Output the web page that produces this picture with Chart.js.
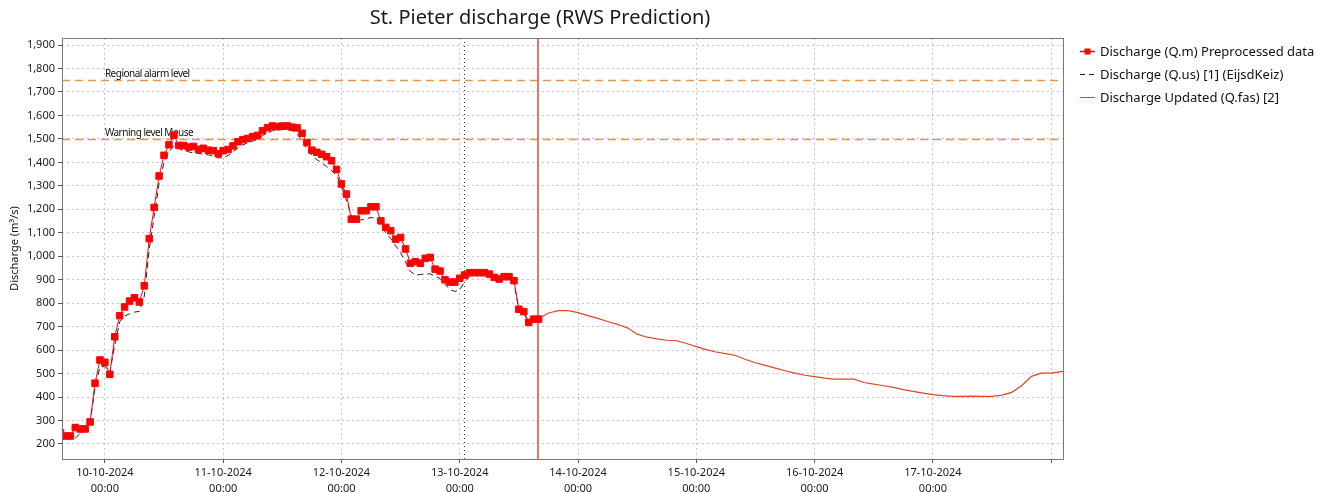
<!DOCTYPE html>
<html>
<head>
<meta charset="utf-8">
<script src="https://cdn.jsdelivr.net/npm/chart.js@4.4.1/dist/chart.umd.min.js"></script>
<style>
  html, body { margin: 0; padding: 0; background: #fff; }
  #wrap { width: 1330px; height: 492px; }
</style>
</head>
<body>
<div id="wrap"><canvas id="dischargeChart" width="1330" height="492"></canvas></div>
<script>
// time axis is in hours since 10-10-2024 00:00
var obsHours = [-9, -8, -7, -6, -5, -4, -3, -2, -1, 0, 1, 2, 3, 4, 5, 6, 7, 8, 9, 10,
    11, 12, 13, 14, 15, 16, 17, 18, 19, 20, 21, 22, 23, 24, 25, 26, 27, 28, 29, 30,
    31, 32, 33, 34, 35, 36, 37, 38, 39, 40, 41, 42, 43, 44, 45, 46, 47, 48, 49, 50,
    51, 52, 53, 54, 55, 56, 57, 58, 59, 60, 61, 62, 63, 64, 65, 66, 67, 68, 69, 70,
    71, 72, 73, 74, 75, 76, 77, 78, 79, 80, 81, 82, 83, 84, 85, 86, 87, 88];
var obsValues = [248, 234, 234, 270, 264, 264, 294, 459, 558, 548, 497, 657, 747, 784, 809, 823, 805, 874, 1075, 1208,
    1342, 1430, 1475, 1516, 1472, 1472, 1465, 1468, 1455, 1460, 1452, 1450, 1437, 1450, 1455, 1470, 1488, 1497, 1502, 1510,
    1515, 1535, 1548, 1555, 1552, 1555, 1555, 1550, 1547, 1524, 1484, 1452, 1443, 1434, 1424, 1407, 1370, 1308, 1265, 1158,
    1158, 1194, 1194, 1211, 1211, 1151, 1123, 1109, 1073, 1080, 1031, 970, 977, 970, 991, 995, 945, 937, 900, 890,
    890, 906, 920, 930, 930, 930, 930, 924, 910, 903, 913, 913, 896, 774, 764, 718, 732, 732];

var usHours = [-6, -5, -4, -3, -2, -1, 0, 1, 2, 3, 4, 5, 6, 7, 8, 9, 10,
    11, 12, 13, 14, 15, 16, 17, 18, 19, 20, 21, 22, 23, 24, 25, 26, 27, 28, 29, 30,
    31, 32, 33, 34, 35, 36, 37, 38, 39, 40, 41, 42, 43, 44, 45, 46, 47, 48, 49, 50,
    51, 52, 53, 54, 55, 56, 57, 58, 59, 60, 61, 62, 63, 64, 65, 66, 67, 68, 69, 70,
    71, 72, 73, 74, 75, 76, 77, 78, 79, 80, 81, 82, 83, 84, 85, 86, 87, 88];
var usValues = [225, 245, 260, 290, 440, 528, 530, 505, 620, 720, 745, 755, 762, 765, 830, 1030, 1170,
    1310, 1400, 1445, 1470, 1460, 1450, 1445, 1440, 1438, 1435, 1432, 1428, 1420, 1418, 1430, 1445, 1462, 1475, 1483, 1490,
    1500, 1515, 1525, 1535, 1538, 1540, 1540, 1535, 1520, 1495, 1455, 1430, 1412, 1398, 1382, 1365, 1345, 1300, 1240, 1175,
    1150, 1155, 1160, 1165, 1162, 1130, 1100, 1075, 1045, 1015, 975, 935, 920, 922, 925, 925, 915, 905, 880, 858,
    850, 858, 890, 915, 925, 925, 925, 920, 905, 898, 905, 905, 890, 770, 758, 715, 728, 730];

var fasHours = [88, 90, 92, 94, 96, 98, 100, 102, 104, 106, 108, 110, 112, 114, 116, 118, 120,
    122, 124, 126, 128, 130, 132, 134, 136, 138, 140, 142, 144, 146, 148, 150, 152, 154, 156, 158, 160,
    162, 164, 166, 168, 170, 172, 174, 176, 178, 180, 182, 184, 186, 188, 190, 192, 194, 196];
var fasValues = [735, 758, 768, 768, 760, 747, 735, 722, 710, 695, 668, 655, 648, 642, 640, 628, 615,
    602, 592, 585, 577, 560, 546, 535, 523, 512, 502, 493, 487, 481, 476, 476, 476, 462, 455, 448, 441,
    432, 424, 417, 410, 406, 403, 403, 404, 403, 403, 408, 420, 448, 488, 502, 502, 508, 512];

var tickHours = [0, 24, 48, 72, 96, 120, 144, 168, 192];
var tickDates = ["10-10-2024", "11-10-2024", "12-10-2024", "13-10-2024", "14-10-2024",
    "15-10-2024", "16-10-2024", "17-10-2024", ""];
var yTicks = [200, 300, 400, 500, 600, 700, 800, 900, 1000, 1100, 1200, 1300, 1400, 1500, 1600, 1700, 1800, 1900];

var levelValues = [1750, 1500];
var levelNames = ["Regional alarm level", "Warning level Meuse"];
var forecastHour = 88;     // red line, start of forecast
var lastUsHour = 72.8;     // black dotted line

var FONT = '"Noto Sans", "Open Sans", sans-serif';

function pts(xs, ys) {
    return xs.map(function (h, i) { return { x: h, y: ys[i] }; });
}

var overlay = {
    id: "overlay",
    beforeDatasetsDraw: function (chart) {
        var ctx = chart.ctx, area = chart.chartArea;
        var xs = chart.scales.x, ys = chart.scales.y;
        ctx.save();
        ctx.beginPath();
        ctx.rect(area.left, area.top, area.right - area.left, area.bottom - area.top);
        ctx.clip();

        // threshold levels
        levelValues.forEach(function (v, i) {
            var y = Math.round(ys.getPixelForValue(v)) + 0.5;
            ctx.strokeStyle = "#e8964a";
            ctx.lineWidth = 1.3;
            ctx.setLineDash([8, 5]);
            ctx.beginPath();
            ctx.moveTo(area.left, y);
            ctx.lineTo(area.right, y);
            ctx.stroke();
            ctx.setLineDash([]);
            ctx.fillStyle = "#111";
            ctx.font = "10px " + FONT;
            ctx.textAlign = "left";
            ctx.textBaseline = "bottom";
            try { ctx.letterSpacing = "-0.5px"; } catch (e) {}
            ctx.fillText(levelNames[i], xs.getPixelForValue(0), y - 1);
            try { ctx.letterSpacing = "0px"; } catch (e) {}
        });

        // black dotted line
        var xd = Math.round(xs.getPixelForValue(lastUsHour)) + 0.5;
        ctx.strokeStyle = "#333";
        ctx.lineWidth = 1;
        ctx.setLineDash([1, 3]);
        ctx.beginPath();
        ctx.moveTo(xd, area.top);
        ctx.lineTo(xd, area.bottom);
        ctx.stroke();

        // forecast start
        var xr = Math.round(xs.getPixelForValue(forecastHour)) - 1;
        ctx.strokeStyle = "#d84a4a";
        ctx.lineWidth = 1.5;
        ctx.setLineDash([]);
        ctx.beginPath();
        ctx.moveTo(xr, area.top);
        ctx.lineTo(xr, area.bottom);
        ctx.stroke();
        ctx.restore();
    },
    afterDraw: function (chart) {
        var ctx = chart.ctx, area = chart.chartArea;
        ctx.save();
        // frame
        ctx.strokeStyle = "#7a7a7a";
        ctx.lineWidth = 1;
        ctx.strokeRect(area.left + 0.5, area.top + 0.5, area.right - area.left - 1, area.bottom - area.top);

        // title
        ctx.fillStyle = "#1a1a1a";
        ctx.font = "20px " + FONT;
        ctx.textAlign = "center";
        ctx.textBaseline = "middle";
        ctx.fillText("St. Pieter discharge (RWS Prediction)", 540, 18);

        // legend
        var lx = 1080, rows = [51, 74, 97];
        var ds = chart.data.datasets;
        // Q.m
        ctx.strokeStyle = "#ff0000";
        ctx.lineWidth = 1.5;
        ctx.beginPath(); ctx.moveTo(lx, rows[0] + 0.5); ctx.lineTo(lx + 15, rows[0] + 0.5); ctx.stroke();
        ctx.fillStyle = "#ff0000";
        ctx.fillRect(lx + 4.5, rows[0] - 2.5, 6, 6);
        // Q.us
        ctx.strokeStyle = "#222";
        ctx.lineWidth = 1;
        ctx.setLineDash([5, 4]);
        ctx.beginPath(); ctx.moveTo(lx, rows[1] + 0.5); ctx.lineTo(lx + 15, rows[1] + 0.5); ctx.stroke();
        ctx.setLineDash([]);
        // Q.fas
        ctx.strokeStyle = "#e04428";
        ctx.beginPath(); ctx.moveTo(lx, rows[2] + 0.5); ctx.lineTo(lx + 15, rows[2] + 0.5); ctx.stroke();

        ctx.font = "13px " + FONT;
        ctx.textAlign = "left";
        ctx.fillStyle = "#111";
        ctx.textBaseline = "middle";
        for (var i = 0; i < 3; i++) {
            ctx.fillText(ds[i].label, lx + 20, rows[i] + 1);
        }
        ctx.restore();
    }
};

var ctx = document.getElementById("dischargeChart").getContext("2d");
new Chart(ctx, {
    type: "line",
    data: {
        datasets: [{
            label: "Discharge (Q.m) Preprocessed data",
            data: pts(obsHours, obsValues),
            borderColor: "#ff0000",
            borderWidth: 1,
            pointStyle: "rect",
            pointRadius: 4.6,
            pointBorderWidth: 1,
            pointBackgroundColor: "#ff0000",
            pointBorderColor: "#ff0000",
            tension: 0
        }, {
            label: "Discharge (Q.us) [1] (EijsdKeiz)",
            data: pts(usHours, usValues),
            borderColor: "#222",
            borderWidth: 1,
            borderDash: [6, 4],
            pointRadius: 0,
            tension: 0
        }, {
            label: "Discharge Updated (Q.fas) [2]",
            data: pts(fasHours, fasValues),
            borderColor: "#e04428",
            borderWidth: 1.2,
            pointRadius: 0,
            tension: 0
        }]
    },
    options: {
        responsive: false,
        animation: false,
        devicePixelRatio: 1,
        layout: { padding: { top: 38, right: 266, left: 0, bottom: 0 } },
        plugins: {
            legend: { display: false },
            tooltip: { enabled: false },
            title: { display: false }
        },
        scales: {
            x: {
                type: "linear",
                min: -8.7,
                max: 194.6,
                afterBuildTicks: function (scale) {
                    scale.ticks = tickHours.map(function (v) { return { value: v }; });
                },
                afterFit: function (scale) { scale.height = 33; },
                ticks: {
                    autoSkip: false,
                    maxRotation: 0,
                    padding: 2,
                    color: "#1a1a1a",
                    font: { family: FONT, size: 11, lineHeight: 1.45 },
                    callback: function (value) {
                        var i = tickHours.indexOf(value);
                        if (i < 0 || !tickDates[i]) return "";
                        return [tickDates[i], "00:00"];
                    }
                },
                grid: { color: "#c4c4c4", lineWidth: 1, tickColor: "#555", tickLength: 4 },
                border: { display: false, dash: [2, 3] }
            },
            y: {
                min: 136,
                max: 1930,
                afterBuildTicks: function (scale) {
                    scale.ticks = yTicks.map(function (v) { return { value: v }; });
                },
                afterFit: function (scale) { scale.width = 62; },
                ticks: {
                    padding: 3,
                    color: "#1a1a1a",
                    font: { family: FONT, size: 11 },
                    callback: function (value) { return value.toLocaleString("en-US"); }
                },
                grid: { color: "#c4c4c4", lineWidth: 1, tickColor: "#555", tickLength: 4 },
                border: { display: false, dash: [2, 3] },
                title: {
                    display: true,
                    text: "Discharge (m³/s)",
                    color: "#111",
                    font: { family: FONT, size: 11 },
                    padding: { top: 8, bottom: 0 }
                }
            }
        }
    },
    plugins: [overlay]
});
</script>
</body>
</html>
